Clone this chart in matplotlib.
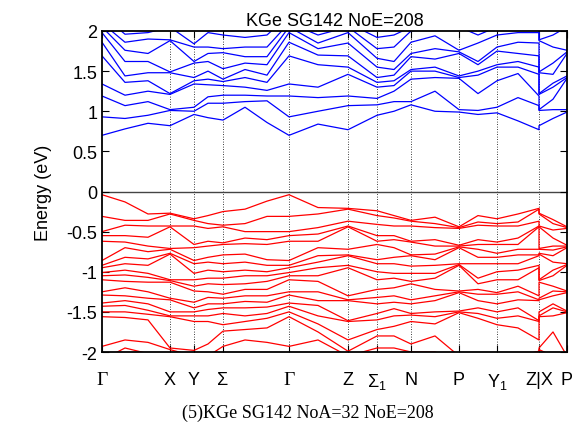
import numpy as np
import matplotlib
matplotlib.use('Agg')
import matplotlib.pyplot as plt

plt.rcParams['font.family'] = ['Liberation Sans', 'DejaVu Sans']
plt.rcParams['mathtext.fontset'] = 'custom'
plt.rcParams['mathtext.rm'] = 'Liberation Sans'
plt.rcParams['mathtext.it'] = 'Liberation Sans'

# path coordinate of each sampled k-point (Gamma-X-Y-Sigma-Gamma-Z-Sigma1-N-P-Y1-Z|X-P)
kpath = [0, 23, 46, 68, 92, 106, 121, 143, 165, 187, 216, 246, 275, 292, 309,
         333, 357, 376, 395, 416, 437, 437, 451, 465]
tick_pos = [0, 68, 92, 121, 187, 246, 275, 309, 357, 395, 437, 465]
tick_lab = ['Γ', 'X', 'Y', 'Σ', 'Γ', 'Z', r'$\Sigma_1$', 'N',
            'P', r'Y$_1$', 'Z|X', 'P']

# conduction bands (eV) read at each k-point
cb_G = [0.70, 0.93, 1.19, 1.34, 1.69, 1.86, 1.98, 2.05, 2.10, 2.20, 2.30, 2.40]
cb_k23 = [0.78, 0.91, 1.07, 1.20, 1.36, 1.44, 1.62, 1.76, 1.86, 1.96, 2.05, 2.20]
cb_k46 = [0.85, 0.95, 1.12, 1.25, 1.38, 1.48, 1.62, 1.72, 1.90, 1.98, 2.10, 2.20]
cb_X = [0.82, 1.01, 1.02, 1.21, 1.22, 1.48, 1.49, 1.88, 1.89, 2.05, 2.10, 2.20]
cb_Y = [0.96, 1.00, 1.05, 1.34, 1.38, 1.42, 1.60, 1.62, 1.80, 1.84, 2.05, 2.20]
cb_k106 = [0.92, 1.10, 1.18, 1.33, 1.40, 1.50, 1.62, 1.72, 1.80, 1.98, 2.10, 2.20]
cb_S = [0.89, 1.10, 1.20, 1.32, 1.37, 1.40, 1.53, 1.73, 1.78, 1.95, 2.10, 2.20]
cb_k143 = [1.05, 1.12, 1.20, 1.30, 1.42, 1.52, 1.60, 1.68, 1.80, 1.92, 2.10, 2.20]
cb_k165 = [0.86, 1.13, 1.19, 1.26, 1.36, 1.45, 1.58, 1.68, 1.80, 1.95, 2.10, 2.20]
cb_k216 = [0.84, 1.00, 1.17, 1.30, 1.58, 1.70, 1.78, 1.85, 1.95, 2.05, 2.15, 2.20]
cb_Z = [0.77, 1.07, 1.19, 1.46, 1.55, 1.69, 1.85, 1.98, 2.05, 2.10, 2.20, 2.30]
cb_S1 = [0.95, 1.08, 1.16, 1.30, 1.36, 1.42, 1.55, 1.66, 1.78, 1.92, 2.05, 2.20]
cb_k292 = [1.00, 1.12, 1.25, 1.32, 1.38, 1.45, 1.52, 1.62, 1.80, 1.95, 2.05, 2.20]
cb_N = [1.08, 1.12, 1.40, 1.50, 1.52, 1.68, 1.72, 1.86, 2.00, 2.05, 2.10, 2.20]
cb_k333 = [1.00, 1.25, 1.42, 1.50, 1.55, 1.65, 1.78, 1.94, 2.05, 2.10, 2.15, 2.20]
cb_P = [0.99, 1.02, 1.41, 1.42, 1.44, 1.72, 1.74, 1.76, 2.05, 2.10, 2.15, 2.20]
cb_k376 = [0.96, 1.01, 1.22, 1.45, 1.50, 1.58, 1.62, 1.85, 1.95, 2.05, 2.15, 2.20]
cb_Y1 = [0.98, 1.05, 1.38, 1.55, 1.58, 1.75, 1.80, 1.95, 2.05, 2.10, 2.15, 2.20]
cb_k416 = [0.88, 1.17, 1.47, 1.55, 1.62, 1.72, 1.86, 1.98, 2.05, 2.10, 2.15, 2.20]
cb_k451 = [0.91, 1.02, 1.15, 1.30, 1.35, 1.46, 1.60, 1.80, 1.95, 2.05, 2.10, 2.20]

# valence bands (eV) read at each k-point
vb_G = [-0.04, -0.31, -0.50, -0.55, -0.62, -0.86, -0.92, -0.95, -1.01, -1.05,
        -1.10, -1.25, -1.29, -1.39, -1.43, -1.50, -1.56, -1.93, -2.10, -2.20]
vb_k23 = [-0.13, -0.36, -0.42, -0.55, -0.63, -0.70, -0.82, -0.90, -0.98, -1.04,
          -1.12, -1.20, -1.30, -1.36, -1.42, -1.50, -1.57, -1.85, -1.95, -2.10]
vb_k46 = [-0.28, -0.36, -0.43, -0.57, -0.68, -0.75, -0.84, -0.92, -1.02, -1.07,
          -1.13, -1.25, -1.33, -1.40, -1.48, -1.53, -1.60, -1.88, -2.02, -2.10]
vb_X = [-0.27, -0.28, -0.43, -0.44, -0.71, -0.72, -0.77, -0.78, -1.10, -1.11,
        -1.13, -1.33, -1.35, -1.50, -1.55, -1.56, -1.95, -1.97, -2.10, -2.20]
vb_Y = [-0.34, -0.36, -0.43, -0.66, -0.70, -0.86, -0.90, -1.02, -1.10, -1.18,
        -1.24, -1.38, -1.45, -1.50, -1.55, -1.62, -1.98, -2.05, -2.10, -2.20]
vb_k106 = [-0.30, -0.40, -0.46, -0.62, -0.68, -0.82, -0.88, -0.98, -1.08, -1.15,
           -1.25, -1.32, -1.40, -1.47, -1.55, -1.62, -1.90, -2.05, -2.10, -2.20]
vb_S = [-0.25, -0.42, -0.44, -0.64, -0.66, -0.79, -0.90, -1.00, -1.08, -1.16,
        -1.28, -1.33, -1.40, -1.45, -1.52, -1.66, -1.74, -1.93, -2.05, -2.20]
vb_k143 = [-0.22, -0.40, -0.50, -0.58, -0.65, -0.78, -0.88, -0.98, -1.05, -1.15,
           -1.22, -1.30, -1.37, -1.45, -1.55, -1.62, -1.72, -1.85, -2.05, -2.20]
vb_k165 = [-0.12, -0.31, -0.50, -0.60, -0.66, -0.85, -0.92, -1.00, -1.05, -1.12,
           -1.22, -1.30, -1.38, -1.44, -1.52, -1.58, -1.70, -1.88, -2.05, -2.20]
vb_k216 = [-0.20, -0.28, -0.45, -0.53, -0.62, -0.70, -0.80, -0.88, -0.95, -1.05,
           -1.12, -1.25, -1.36, -1.42, -1.55, -1.65, -1.75, -1.85, -2.05, -2.20]
vb_Z = [-0.21, -0.22, -0.37, -0.43, -0.44, -0.72, -0.79, -0.80, -0.92, -0.95,
        -1.30, -1.35, -1.36, -1.61, -1.62, -1.85, -1.99, -2.05, -2.10, -2.20]
vb_S1 = [-0.24, -0.30, -0.41, -0.55, -0.62, -0.66, -0.85, -0.90, -1.00, -1.10,
         -1.22, -1.32, -1.40, -1.52, -1.60, -1.72, -1.80, -1.95, -2.05, -2.20]
vb_k292 = [-0.30, -0.33, -0.43, -0.55, -0.60, -0.70, -0.82, -0.90, -1.02, -1.08,
           -1.20, -1.30, -1.38, -1.46, -1.55, -1.68, -1.80, -1.95, -2.05, -2.20]
vb_N = [-0.36, -0.37, -0.43, -0.62, -0.63, -0.79, -0.80, -0.93, -1.02, -1.12,
        -1.15, -1.35, -1.40, -1.52, -1.54, -1.62, -1.90, -2.00, -2.10, -2.20]
vb_k333 = [-0.32, -0.40, -0.45, -0.60, -0.68, -0.78, -0.85, -0.92, -1.02, -1.08,
           -1.22, -1.30, -1.36, -1.50, -1.56, -1.65, -1.80, -2.00, -2.10, -2.20]
vb_P = [-0.44, -0.45, -0.46, -0.67, -0.68, -0.69, -0.70, -0.90, -0.91, -0.92,
        -1.24, -1.25, -1.26, -1.49, -1.50, -1.51, -2.05, -2.10, -2.15, -2.20]
vb_k376 = [-0.30, -0.38, -0.42, -0.60, -0.66, -0.72, -0.82, -0.90, -1.08, -1.15,
           -1.22, -1.28, -1.36, -1.45, -1.52, -1.58, -2.05, -2.10, -2.15, -2.20]
vb_Y1 = [-0.34, -0.40, -0.43, -0.63, -0.66, -0.77, -0.82, -0.90, -1.00, -1.10,
         -1.26, -1.28, -1.40, -1.50, -1.58, -1.66, -2.05, -2.10, -2.15, -2.20]
vb_k416 = [-0.28, -0.38, -0.43, -0.58, -0.66, -0.72, -0.79, -0.90, -0.98, -1.10,
           -1.18, -1.25, -1.35, -1.45, -1.55, -1.70, -2.05, -2.10, -2.15, -2.20]
vb_k451 = [-0.35, -0.40, -0.48, -0.58, -0.68, -0.73, -0.80, -0.88, -0.98, -1.05,
           -1.18, -1.24, -1.30, -1.40, -1.45, -1.55, -1.75, -2.05, -2.10, -2.20]

cond = np.array([cb_G, cb_k23, cb_k46, cb_X, cb_Y, cb_k106, cb_S, cb_k143, cb_k165,
                 cb_G, cb_k216, cb_Z, cb_S1, cb_k292, cb_N, cb_k333, cb_P, cb_k376,
                 cb_Y1, cb_k416, cb_Z, cb_X, cb_k451, cb_P])
val = np.array([vb_G, vb_k23, vb_k46, vb_X, vb_Y, vb_k106, vb_S, vb_k143, vb_k165,
                vb_G, vb_k216, vb_Z, vb_S1, vb_k292, vb_N, vb_k333, vb_P, vb_k376,
                vb_Y1, vb_k416, vb_Z, vb_X, vb_k451, vb_P])
cond = np.sort(cond, axis=1)
val = np.sort(val, axis=1)

fig = plt.figure(figsize=(5.76, 4.35), dpi=100)
ax = fig.add_axes([102 / 576, 1 - 353 / 435, 465 / 576, 321 / 435])

for x in tick_pos[1:-1]:
    ax.axvline(x, color='black', lw=0.6, ls=(0, (1, 2)), zorder=1)
ax.axhline(0, color='#444444', lw=1.0, zorder=1)

for i in range(val.shape[1]):
    ax.plot(kpath, val[:, i], color='#ff0000', lw=0.9, zorder=2)
for i in range(cond.shape[1]):
    ax.plot(kpath, cond[:, i], color='#0000ff', lw=0.9, zorder=2)

ax.set_xlim(0, 465)
ax.set_ylim(-2, 2)
ax.set_yticks([-2, -1.5, -1, -0.5, 0, 0.5, 1, 1.5, 2])
ax.set_yticklabels(['-2', '-1.5', '-1', '-0.5', '0', '0.5', '1', '1.5', '2'])
ax.set_xticks(tick_pos)
ax.set_xticklabels(tick_lab)
ax.tick_params(axis='both', direction='in', top=True, right=True, length=5,
               width=0.8, labelsize=13)
ax.tick_params(axis='x', pad=14)
for lab in ax.get_xticklabels():
    if lab.get_text() == 'Γ':
        lab.set_fontfamily('Liberation Serif')
        lab.set_fontsize(14)
for s in ax.spines.values():
    s.set_linewidth(1.3)

ax.set_ylabel('Energy (eV)', fontsize=13, labelpad=10)
ax.set_title('KGe SG142 NoE=208', fontsize=13, pad=4)

fig.text(308 / 576, 1 - 413 / 435, '(5)KGe SG142 NoA=32 NoE=208',
         family='Liberation Serif', fontsize=13, ha='center', va='center')

fig.savefig('out.png', dpi=100)
